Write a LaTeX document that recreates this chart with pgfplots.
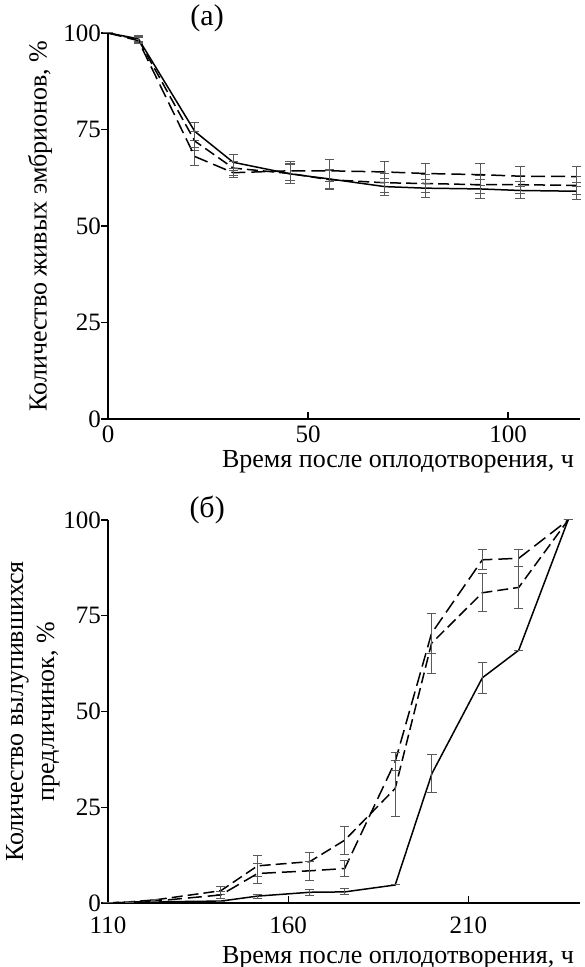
\documentclass[border=0pt]{standalone}
\usepackage{fontspec}
\setmainfont{Liberation Serif}
\usepackage{pgfplots}
\pgfplotsset{compat=1.18}

\pgfplotsset{
  panel/.style={
    scale only axis, width=236pt,
    axis x line*=bottom, axis y line*=left,
    axis line style={-, line width=0.6pt},
    tick align=inside, major tick length=3.5pt,
    tick style={black, line width=0.6pt},
    every y tick/.append style={xshift=-3.5pt},
    ymin=0, ymax=100, ytick={0,25,50,75,100},
    tick label style={font=\fontsize{12.5}{14}\selectfont},
    label style={font=\fontsize{13}{15.5}\selectfont},
    /pgf/number format/assume math mode=true,
    clip=false,
  },
  sol/.style={black, line width=0.75pt, no marks,
    error bars/y dir=both, error bars/y explicit,
    error bars/error bar style={gray!70!black, line width=0.5pt, solid},
    error bars/error mark options={gray!70!black, rotate=90, mark size=2.3pt, line width=0.5pt, solid}},
  dA/.style={sol, dash pattern=on 5.5pt off 2.5pt},
  dB/.style={sol, dash pattern=on 7pt off 3pt},
}

\begin{document}
\begin{tikzpicture}
\useasboundingbox (0,0) rectangle (292pt,483.5pt);

% (a)
\begin{axis}[panel, height=193pt,
  at={(54pt,274pt)}, anchor=south west,
  xmin=0, xmax=118, xtick={0,50,100},
  xlabel={Время после оплодотворения, ч},
  xlabel style={at={(axis description cs:1.002,0)}, anchor=east, yshift=-21.5pt},
  ylabel={Количество живых эмбрионов, \%},
  ylabel style={at={(axis description cs:-0.144,0.5)}, anchor=center},
]
\addplot[sol] coordinates {
 (0,100) +- (0,0) (7.6,98.5) +- (0,0.8) (21.7,74.5) +- (0,2.3) (31.3,66.5) +- (0,2)
 (45.5,63.5) +- (0,2.5) (55.3,62.2) +- (0,2.5) (69.2,60.2) +- (0,2.2) (79.3,59.8) +- (0,2.3)
 (93,59.6) +- (0,2.4) (103,59.2) +- (0,2.2) (117.2,59) +- (0,2.2)};
\addplot[dA] coordinates {
 (0,100) +- (0,0) (7.6,98.3) +- (0,0.8) (21.7,72.0) +- (0,2.5) (31.3,65.0) +- (0,1.8)
 (45.5,63.6) +- (0,2.5) (55.3,62.0) +- (0,2.5) (69.2,61.2) +- (0,2.4) (79.3,61.0) +- (0,2.4)
 (93,60.7) +- (0,2.4) (103,60.7) +- (0,2.2) (117.2,60.5) +- (0,2.4)};
\addplot[dB] coordinates {
 (0,100) +- (0,0) (7.6,98.0) +- (0,0.8) (21.7,68.0) +- (0,2.4) (31.3,63.8) +- (0,1.2)
 (45.5,64.3) +- (0,2.5) (55.3,64.3) +- (0,2.8) (69.2,64.0) +- (0,2.8) (79.3,63.6) +- (0,2.7)
 (93,63.3) +- (0,2.8) (103,62.9) +- (0,2.6) (117.2,62.8) +- (0,2.6)};
\node[font=\fontsize{15}{17}\selectfont] at (axis description cs:0.21,1.039) {(а)};
\end{axis}

% (б)
\begin{axis}[panel, height=191.5pt,
  at={(54pt,32pt)}, anchor=south west,
  xmin=110, xmax=241, xtick={110,160,210},
  xticklabel style={yshift=-3.5pt},
  xlabel={Время после оплодотворения, ч},
  xlabel style={at={(axis description cs:1.002,0)}, anchor=east, yshift=-27.5pt},
  ylabel={Количество вылупившихся\\предличинок, \%},
  ylabel style={at={(axis description cs:-0.159,0.5)}, anchor=center, align=center},
]
\addplot[sol] coordinates {
 (110,0) +- (0,0) (116,0.2) +- (0,0) (123,0.3) +- (0,0) (141.3,0.5) +- (0,0)
 (151.5,1.8) +- (0,0.5) (166,2.8) +- (0,0.8) (175.7,2.9) +- (0,0.8) (189.7,4.7) +- (0,0)
 (199.9,33.8) +- (0,5) (213.9,58.8) +- (0,4) (224,66) +- (0,0) (237.7,100) +- (0,0)};
\addplot[dA] coordinates {
 (110,0) +- (0,0) (116,0.3) +- (0,0) (123,0.8) +- (0,0) (141.3,3.2) +- (0,1)
 (151.5,9.7) +- (0,2.8) (166,10.8) +- (0,2.3) (175.7,16.4) +- (0,3.7) (189.7,29.9) +- (0,7.4)
 (199.8,67.8) +- (0,7.8) (213.9,81.0) +- (0,5) (224,82.4) +- (0,5.5) (237.7,100) +- (0,0)};
\addplot[dB] coordinates {
 (110,0) +- (0,0) (116,0.2) +- (0,0) (123,0.5) +- (0,0) (141.3,2.1) +- (0,0.8)
 (151.5,7.7) +- (0,2.5) (166,8.4) +- (0,2.5) (175.7,9.0) +- (0,2) (189.7,36.9) +- (0,2.3)
 (199.8,70.4) +- (0,5.2) (213.9,89.6) +- (0,2.6) (224,90) +- (0,2.2) (237.7,100) +- (0,0)};
\node[font=\fontsize{15}{17}\selectfont] at (axis description cs:0.21,1.026) {(б)};
\end{axis}
\end{tikzpicture}
\end{document}
